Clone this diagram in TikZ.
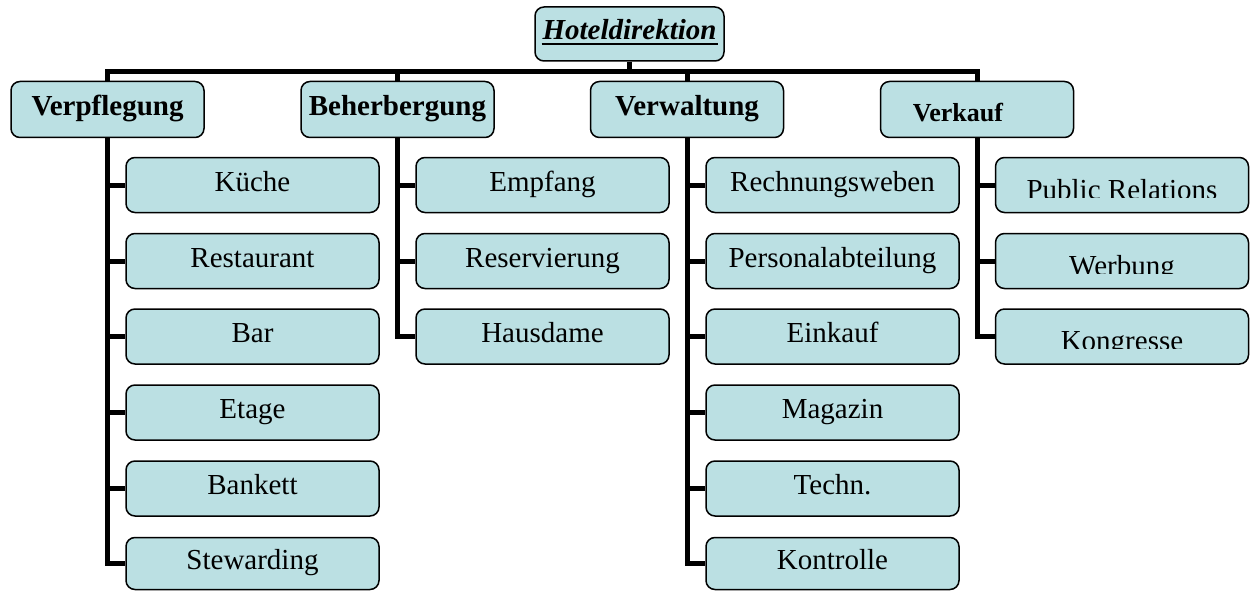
\documentclass[tikz,border=0pt]{standalone}
\usepackage{fontspec}
\setmainfont{Liberation Serif}
\usetikzlibrary{backgrounds}
\definecolor{boxfill}{RGB}{187,224,227}
\newcommand\ulbar[1]{\setbox0=\hbox{#1}\rlap{\kern-1pt\raisebox{-5.3pt}{\rule{\dimexpr\wd0+2pt\relax}{2.4pt}}}\box0}
\begin{document}
\begin{tikzpicture}[x=1pt,y=-1pt,
  box/.style={draw=black, line width=1.5pt, fill=boxfill, rounded corners=9pt,
    inner sep=0pt, text height=20pt, text depth=8pt,
    font=\fontsize{29}{34}\selectfont},
  headbox/.style={box, minimum width=193pt, minimum height=56pt,
    font=\fontsize{29}{34}\selectfont\bfseries},
  childbox/.style={box, minimum width=253pt, minimum height=55pt},
  lastbox/.style={box, minimum width=253pt, minimum height=52pt},
  clipbox/.style={childbox, path picture={
    \clip (path picture bounding box.north west) rectangle ([yshift=-39.5pt]path picture bounding box.north east);
    \node[anchor=base, inner sep=0pt, font=\fontsize{29}{34}\selectfont] at ([yshift=-41.5pt]path picture bounding box.north) {#1};}},
  conn/.style={line width=5pt, line join=miter, draw=black}]
\useasboundingbox (0,0) rectangle (1250,591);

% top
\node[box, minimum width=189pt, minimum height=54pt,
  font=\fontsize{29}{34}\selectfont\bfseries\itshape] (H) at (629.5,34) {\ulbar{Hoteldirektion}};

% level 1
\node[headbox] (V) at (107.5,109.5) {Verpflegung};
\node[headbox] (B) at (397.5,109.5) {Beherbergung};
\node[headbox] (W) at (687,109.5) {Verwaltung};
\node[headbox, font=\fontsize{26}{30}\selectfont\bfseries] (K) at (977,109.5) {\hspace*{-38pt}\raisebox{-6pt}{Verkauf}};

% Verpflegung children
\node[childbox] (v1) at (252.5,185) {Küche};
\node[childbox] (v2) at (252.5,261) {Restaurant};
\node[childbox] (v3) at (252.5,336.5) {Bar};
\node[childbox] (v4) at (252.5,412.5) {Etage};
\node[childbox] (v5) at (252.5,488.5) {Bankett};
\node[lastbox] (v6) at (252.5,563.5) {Stewarding};

% Beherbergung children
\node[childbox] (b1) at (542.5,185) {Empfang};
\node[childbox] (b2) at (542.5,261) {Reservierung};
\node[childbox] (b3) at (542.5,336.5) {Hausdame};

% Verwaltung children
\node[childbox] (w1) at (832.5,185) {Rechnungsweben};
\node[childbox] (w2) at (832.5,261) {Personalabteilung};
\node[childbox] (w3) at (832.5,336.5) {Einkauf};
\node[childbox] (w4) at (832.5,412.5) {Magazin};
\node[childbox] (w5) at (832.5,488.5) {Techn.};
\node[lastbox] (w6) at (832.5,563.5) {Kontrolle};

% Verkauf children
\node[clipbox={Public Relations}] (k1) at (1122,185) {};
\node[clipbox={Werbung}] (k2) at (1122,261) {};
\node[clipbox={Kongresse}] (k3) at (1122,336.5) {};

\coordinate (bar) at (629.5,71.5);

\begin{pgfonlayer}{background}
\draw[conn] (V.north) -- (V.north |- bar) -- (K.north |- bar) -- (K.north);
\draw[conn] (H.south) -- (H.south |- bar);
\draw[conn] (B.north) -- (B.north |- bar);
\draw[conn] (W.north) -- (W.north |- bar);

\draw[conn] (V.south) |- (v6.west);
\foreach \c in {v1,v2,v3,v4,v5} \draw[conn] (V.south |- \c.west) -- (\c.west);
\draw[conn] (B.south) |- (b3.west);
\foreach \c in {b1,b2} \draw[conn] (B.south |- \c.west) -- (\c.west);
\draw[conn] (W.south) |- (w6.west);
\foreach \c in {w1,w2,w3,w4,w5} \draw[conn] (W.south |- \c.west) -- (\c.west);
\draw[conn] (K.south) |- (k3.west);
\foreach \c in {k1,k2} \draw[conn] (K.south |- \c.west) -- (\c.west);
\end{pgfonlayer}
\end{tikzpicture}
\end{document}
